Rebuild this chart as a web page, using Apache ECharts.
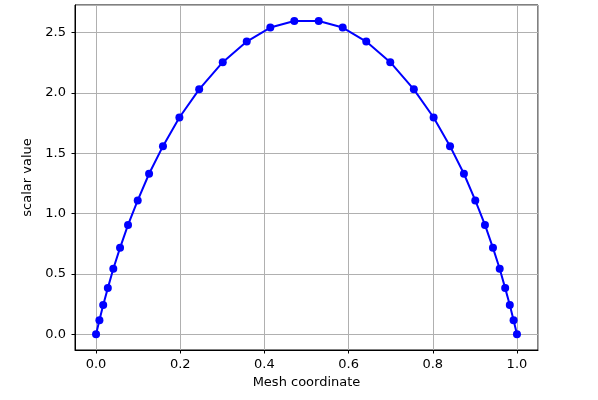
<!DOCTYPE html>
<html>
<head>
<meta charset="utf-8">
<script src="https://cdn.jsdelivr.net/npm/echarts@6/dist/echarts.min.js"></script>
<style>html,body{margin:0;padding:0;background:#fff;}#c{width:598px;height:400px;}</style>
</head>
<body>
<div id="c"></div>
<script>
const meshX = [0, 0.008, 0.017, 0.028, 0.041, 0.057, 0.076, 0.099, 0.126, 0.159, 0.198, 0.245, 0.301, 0.358, 0.414, 0.471,
               0.529, 0.586, 0.642, 0.699, 0.755, 0.802, 0.841, 0.874, 0.901, 0.924, 0.943, 0.959, 0.972, 0.983, 0.992, 1.0];
const scalarY = [0, 0.116, 0.243, 0.383, 0.543, 0.717, 0.907, 1.11, 1.331, 1.56, 1.797, 2.031, 2.256, 2.427, 2.543, 2.598,
                 2.598, 2.543, 2.427, 2.256, 2.031, 1.797, 1.56, 1.331, 1.11, 0.907, 0.717, 0.543, 0.383, 0.243, 0.116, 0];
const xName = 'Mesh coordinate';
const yName = 'scalar value';

const pts = meshX.map((x, i) => [x, scalarY[i]]);
const font = 'DejaVu Sans';
function fmt(step) {
  return v => (Math.abs(v / step - Math.round(v / step)) < 1e-6 ? v.toFixed(1) : '');
}
const chart = echarts.init(document.getElementById('c'), null, {renderer: 'canvas'});
chart.setOption({
  animation: false,
  backgroundColor: '#fff',
  grid: {left: 75, right: 60, top: 5, bottom: 50, show: true, borderColor: '#000', borderWidth: 1, backgroundColor: 'transparent'},
  xAxis: {
    type: 'value', min: -0.05, max: 1.05, splitNumber: 5,
    name: xName, nameLocation: 'middle', nameGap: 26,
    nameTextStyle: {fontFamily: font, fontSize: 13, color: '#000'},
    axisLine: {show: true, onZero: false, lineStyle: {color: '#000', width: 1}},
    axisTick: {show: true, inside: false, length: 3.5, lineStyle: {color: '#000'}},
    axisLabel: {fontFamily: font, fontSize: 13, color: '#000', margin: 8, showMinLabel: false, showMaxLabel: false, formatter: fmt(0.2)},
    splitLine: {show: true, lineStyle: {color: '#b0b0b0', width: 1}}
  },
  yAxis: {
    type: 'value', min: -0.13, max: 2.73, splitNumber: 5,
    name: yName, nameLocation: 'middle', nameGap: 32,
    nameTextStyle: {fontFamily: font, fontSize: 13, color: '#000'},
    axisLine: {show: true, onZero: false, lineStyle: {color: '#000', width: 1}},
    axisTick: {show: true, inside: false, length: 3.5, lineStyle: {color: '#000'}},
    axisLabel: {fontFamily: font, fontSize: 13, color: '#000', margin: 9, showMinLabel: false, showMaxLabel: false, formatter: fmt(0.5)},
    splitLine: {show: true, lineStyle: {color: '#b0b0b0', width: 1}}
  },
  series: [{
    type: 'line', data: pts,
    symbol: 'circle', symbolSize: 8, showSymbol: true,
    itemStyle: {color: '#0000ff'},
    lineStyle: {color: '#0000ff', width: 2},
    clip: false
  }]
});
</script>
</body>
</html>
